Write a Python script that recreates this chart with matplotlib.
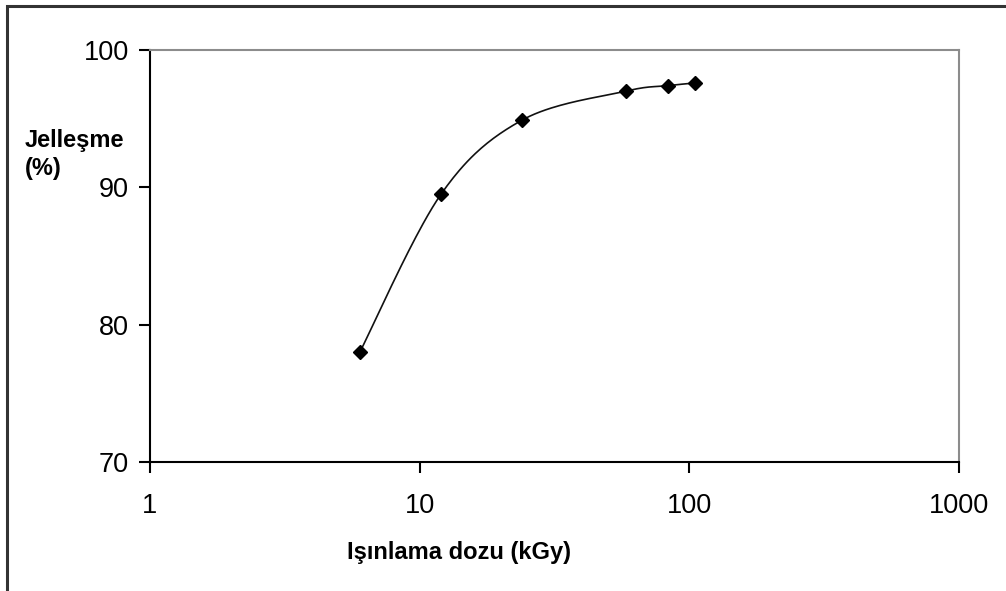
import numpy as np
import matplotlib
matplotlib.use("Agg")
from matplotlib import pyplot as plt
from matplotlib.patches import Rectangle

plt.rcParams["font.family"] = ["Liberation Sans", "DejaVu Sans"]

# data
dose = [6, 12, 24, 58, 83, 105]          # kGy
gel = [78.0, 89.5, 94.9, 97.0, 97.4, 97.6]  # %

x_ticks = [1, 10, 100, 1000]
x_tick_labels = ["1", "10", "100", "1000"]
y_ticks = [70, 80, 90, 100]


def smooth(xs, ys, n=40):
    # Excel-like smoothed line: cardinal (Catmull-Rom) bezier through the points
    px = np.log10(np.asarray(xs, float)) / 3.0
    py = (np.asarray(ys, float) - 70) / 30.0 * (412 / 809)
    pts = np.column_stack([px, py])
    out = []
    for i in range(len(pts) - 1):
        p0 = pts[i - 1] if i > 0 else pts[i]
        p1, p2 = pts[i], pts[i + 1]
        p3 = pts[i + 2] if i + 2 < len(pts) else pts[i + 1]
        c1 = p1 + (p2 - p0) / 6
        c2 = p2 - (p3 - p1) / 6
        t = np.linspace(0, 1, n)[:, None]
        seg = ((1 - t) ** 3) * p1 + 3 * ((1 - t) ** 2) * t * c1 + 3 * (1 - t) * t ** 2 * c2 + t ** 3 * p2
        out.append(seg if i == 0 else seg[1:])
    out = np.vstack(out)
    return 10 ** (out[:, 0] * 3.0), out[:, 1] * 809 / 412 * 30 + 70


fig = plt.figure(figsize=(10.06, 5.91), dpi=100)
ax = fig.add_axes([150 / 1006, 1 - 462 / 591, 809 / 1006, 412 / 591])

sx, sy = smooth(dose, gel)
ax.plot(sx, sy, color="#111111", lw=1.2, zorder=2)
ax.plot(dose, gel, linestyle="none", marker="D", markersize=7.5, color="black", zorder=3)

ax.set_xscale("log")
ax.set_xlim(1, 1000)
ax.set_ylim(70, 100)
ax.set_xticks(x_ticks)
ax.set_xticklabels(x_tick_labels)
ax.minorticks_off()
ax.set_yticks(y_ticks)

ax.tick_params(axis="x", direction="out", length=8, width=1.5, pad=14, labelsize=19.5, colors="black")
ax.tick_params(axis="y", direction="out", length=8, width=1.5, pad=7, labelsize=19.5, colors="black")

for s in ["left", "bottom"]:
    ax.spines[s].set_color("black")
    ax.spines[s].set_linewidth(1.5)
for s in ["top", "right"]:
    ax.spines[s].set_color("#8c8c8c")
    ax.spines[s].set_linewidth(1.5)

fig.text(459 / 1006, 1 - 553 / 591, "Işınlama dozu (kGy)", ha="center", va="center",
         fontsize=17, fontweight="bold")
# y-axis title, two lines left of the axis
fig.text(25 / 1006, 1 - 140 / 591, "Jelleşme", ha="left", va="center",
         fontsize=17, fontweight="bold")
fig.text(25 / 1006, 1 - 169 / 591, "(%)", ha="left", va="center",
         fontsize=17, fontweight="bold")

# outer chart border (partly cropped in the original)
fig.patches.append(Rectangle((7 / 1006, -0.1), 1.2, 1 - 6 / 591 + 0.1, transform=fig.transFigure,
                             fill=False, edgecolor="#333333", linewidth=2.2))

fig.savefig("out.png", dpi=100)
